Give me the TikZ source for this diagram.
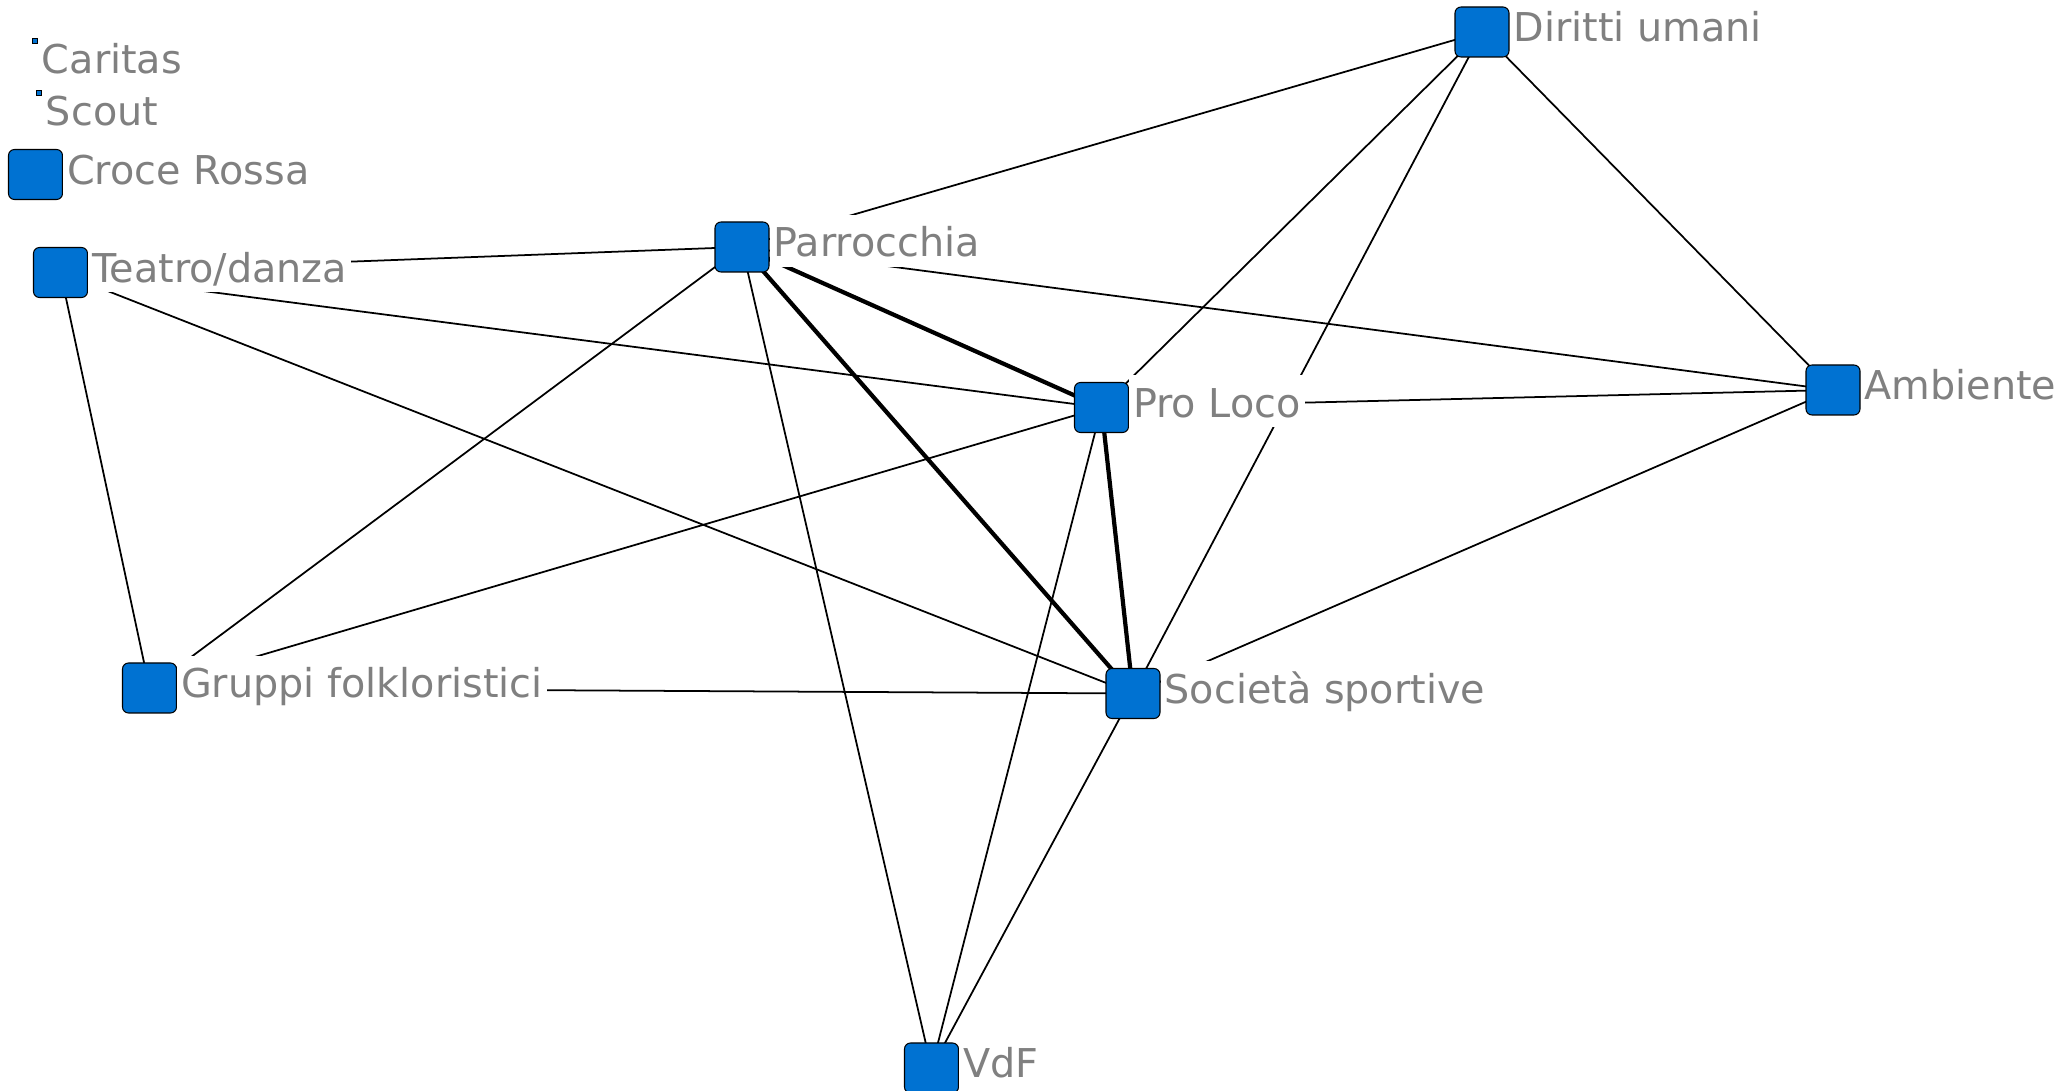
\documentclass[tikz,border=0pt]{standalone}
\usepackage{fontspec}
\setmainfont{DejaVu Sans}
\usetikzlibrary{backgrounds}
\definecolor{nodeblue}{RGB}{0,114,210}
\definecolor{lblgray}{RGB}{128,128,128}
\begin{document}
\begin{tikzpicture}[x=0.1mm,y=-0.1mm,
        actor/.style={draw=black,line width=0.3pt,fill=nodeblue,rounded corners=0.6mm,minimum width=5.4mm,minimum height=5mm,inner sep=0pt,outer sep=0pt},
        dot/.style={draw=black,line width=0.3pt,fill=nodeblue,minimum size=0.45mm,inner sep=0pt,outer sep=0pt},
        lbl/.style={fill=white,text=lblgray,font=\fontsize{11.3pt}{13pt}\selectfont,inner sep=0.4mm,text height=3.8mm,text depth=0.6mm,anchor=north west,yshift=0.8mm},
        tie/.style={line width=0.5pt},
        strong/.style={line width=1.2pt}]
            \useasboundingbox (0,0) rectangle (2067,1091);
            \node[dot,label={[lbl]north east:Caritas}] (caritas) at (35,41) {};
            \node[dot,label={[lbl]north east:Scout}] (scout) at (39,93) {};
            \node[actor,label={[lbl]north east:Croce Rossa}] (croce) at (35.5,174.5) {};
            \node[actor,label={[lbl]north east:Teatro/danza}] (teatro) at (60.5,272.5) {};
            \node[actor,label={[lbl]north east:Parrocchia}] (parrocchia) at (742,247) {};
            \node[actor,label={[lbl]north east:Pro Loco}] (proloco) at (1101.5,407.5) {};
            \node[actor,label={[lbl]north east:Società sportive}] (societa) at (1133,693.5) {};
            \node[actor,label={[lbl]north east:Gruppi folkloristici}] (gruppi) at (149.5,688) {};
            \node[actor,label={[lbl]north east:Diritti umani}] (diritti) at (1482,32) {};
            \node[actor,label={[lbl]north east:Ambiente}] (ambiente) at (1833,390) {};
            \node[actor,label={[lbl]north east:VdF}] (vdf) at (931.5,1068) {};
            \begin{pgfonlayer}{background}
            \draw[tie] (teatro.center)--(parrocchia.center);
            \draw[tie] (teatro.center)--(proloco.center);
            \draw[tie] (teatro.center)--(societa.center);
            \draw[tie] (teatro.center)--(gruppi.center);
            \draw[tie] (parrocchia.center)--(diritti.center);
            \draw[tie] (parrocchia.center)--(ambiente.center);
            \draw[tie] (parrocchia.center)--(gruppi.center);
            \draw[tie] (parrocchia.center)--(vdf.center);
            \draw[tie] (proloco.center)--(diritti.center);
            \draw[tie] (proloco.center)--(ambiente.center);
            \draw[tie] (proloco.center)--(gruppi.center);
            \draw[tie] (proloco.center)--(vdf.center);
            \draw[tie] (diritti.center)--(ambiente.center);
            \draw[tie] (diritti.center)--(societa.center);
            \draw[tie] (ambiente.center)--(societa.center);
            \draw[tie] (gruppi.center)--(societa.center);
            \draw[tie] (societa.center)--(vdf.center);
            \draw[strong] (parrocchia.center)--(proloco.center);
            \draw[strong] (parrocchia.center)--(societa.center);
            \draw[strong] (proloco.center)--(societa.center);
            \end{pgfonlayer}
        \end{tikzpicture}
\end{document}
